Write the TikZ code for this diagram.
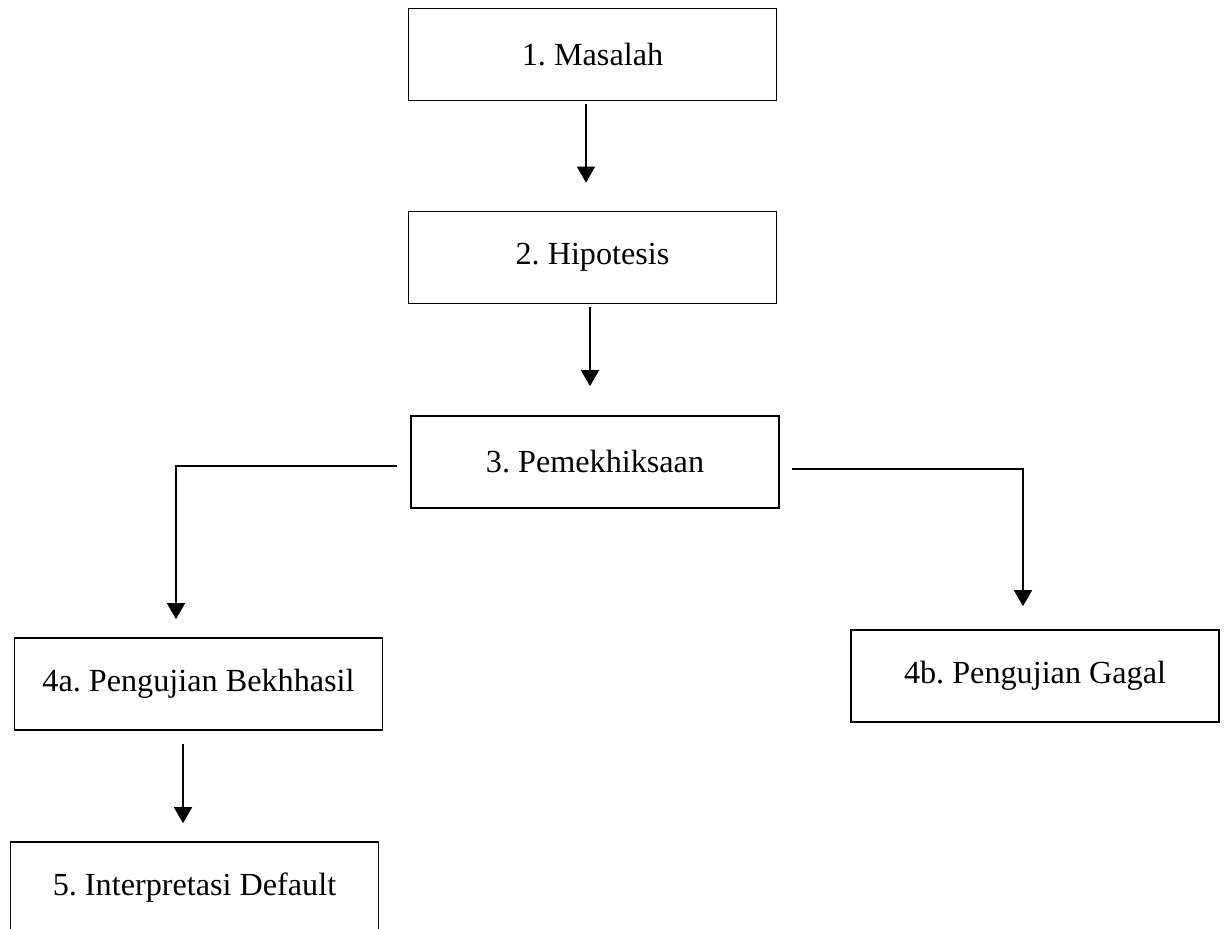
\documentclass[tikz,border=0pt]{standalone}
\usepackage{fontspec}
\setmainfont{Liberation Serif}
\usetikzlibrary{arrows.meta,calc}
\frenchspacing
\begin{document}
\begin{tikzpicture}[x=0.5pt,y=-0.5pt,
  box/.style={draw, line width=0.85pt, minimum width=184pt, minimum height=46pt,
    inner sep=0pt, font=\fontsize{16.1}{19}\selectfont},
  arr/.style={line width=0.8pt, -{Triangle[length=8pt,width=9pt]}}]
\useasboundingbox (0,0) rectangle (1225,928);
\clip (0,0) rectangle (1225,928);
\node[box] (b1) at (592.5,54.5) {1. Masalah};
\node[box] (b2) at (592.5,257.5) {2. Hipotesis};
\node[box] (b3) at (595,462) {3. Pemekhiksaan};
\node[box] (b4a) at (198.5,684) {4a. Pengujian Bekhhasil};
\node[box] (b4b) at (1035,676) {4b. Pengujian Gagal};
\node[box] (b5) at (194.5,888) {5. Interpretasi Default};
\draw[arr] ($(b1.south)+(-6.5,3)$) -- ($(b2.north)+(-6.5,-28)$);
\draw[arr] ($(b2.south)+(-2.5,3)$) -- ($(b3.north)+(-5,-29)$);
\draw[arr] ($(b3.west)+(-13,4)$) -| ($(b4a.north)+(-22.5,-18)$);
\draw[arr] ($(b3.east)+(12,7)$) -| ($(b4b.north)+(-12,-23)$);
\draw[arr] ($(b4a.south)+(-15.5,13)$) -- ($(b5.north)+(-11.5,-18)$);
\end{tikzpicture}
\end{document}
